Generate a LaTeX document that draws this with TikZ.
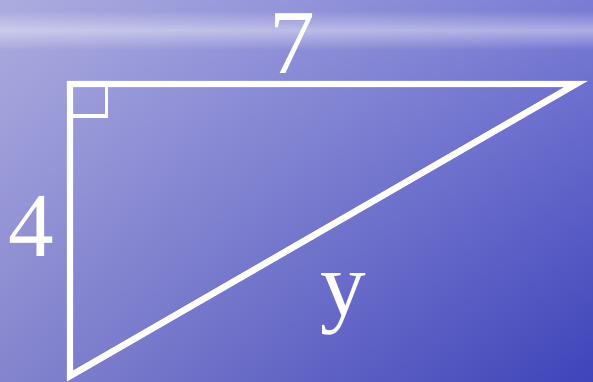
\documentclass[tikz,border=0pt]{standalone}
\usepackage{fontspec}
\setmainfont{Liberation Serif}
\usetikzlibrary{fadings,shadings}
\definecolor{seaUL}{RGB}{172,172,224}
\definecolor{seaUR}{RGB}{122,124,212}
\definecolor{seaLL}{RGB}{132,132,206}
\definecolor{seaLR}{RGB}{62,68,186}
\tikzfading[name=glowband,top color=transparent!100,bottom color=transparent!100,middle color=transparent!60]

\begin{document}
\begin{tikzpicture}[x=0.03cm,y=-0.03cm]
  % sea-like background
  \shade[upper left=seaUL,upper right=seaUR,lower left=seaLL,lower right=seaLR]
    (0,0) rectangle (593,381);
  \fill[white,path fading=glowband] (0,10) rectangle (593,50);
  \useasboundingbox (0,0) rectangle (593,381);

  \coordinate (A) at (70,84);
  \coordinate (B) at (576,84);
  \coordinate (C) at (70,376);

  % triangle and right angle mark
  \draw[white,line width=5.5pt] (B) -- (A) -- (C) -- cycle;
  \draw[white,line width=2.6pt] (A) rectangle ++(36.5,32);

  \node[white,font=\fontsize{78}{78}\selectfont] (seven) at (292,44) {7};
  \node[white,font=\fontsize{78}{78}\selectfont] (four) at (31,226) {4};
  \node[white,font=\fontsize{78}{78}\selectfont] (why) at (343,304) {y};
\end{tikzpicture}
\end{document}
